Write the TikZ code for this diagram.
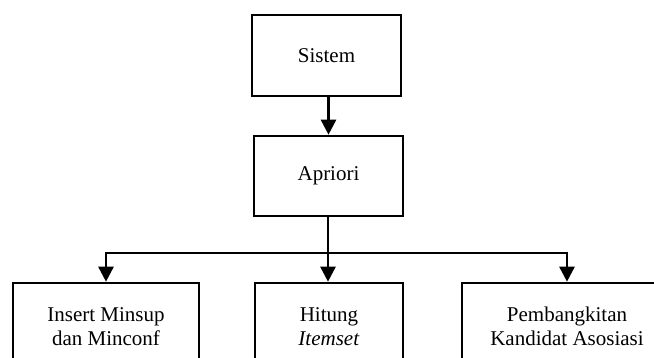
\documentclass[tikz,border=0pt]{standalone}
\usepackage{fontspec}
\setmainfont{Liberation Serif}
\usetikzlibrary{arrows.meta}
\begin{document}
\begin{tikzpicture}[x=1pt,y=-1pt,
  box/.style={draw=black, line width=2.6pt, fill=white, align=center, inner sep=0pt,
    font=\fontsize{21}{24}\selectfont},
  arr/.style={line width=2.6pt, -{Triangle[width=15pt,length=15pt]}},
  ln/.style={line width=2.6pt}]
\useasboundingbox (0,0) rectangle (654,358);
\clip (0,0) rectangle (654,358);
\node[box, minimum width=149pt, minimum height=81pt] (sistem) at (326.5,55.5) {Sistem};
\node[box, minimum width=149pt, minimum height=80pt] (apriori) at (328.5,176) {Apriori};
\node[box, minimum width=186pt, minimum height=87pt] (b1) at (106,326.5) {Insert Minsup\\dan Minconf};
\node[box, minimum width=148pt, minimum height=87pt] (b2) at (329,326.5) {Hitung\\\textit{Itemset}};
\node[box, minimum width=210pt, minimum height=87pt] (b3) at (567,326.5) {Pembangkitan\\Kandidat Asosiasi};
\coordinate (split) at (328,253);
\draw[arr] (apriori.north |- sistem.south) -- (apriori.north);
\draw[ln] (split |- apriori.south) -- (split);
\draw[arr] (split) -| (b1.north);
\draw[arr] (split) -| (b3.north);
\draw[arr] (split) -- (split |- b2.north);
\end{tikzpicture}
\end{document}
